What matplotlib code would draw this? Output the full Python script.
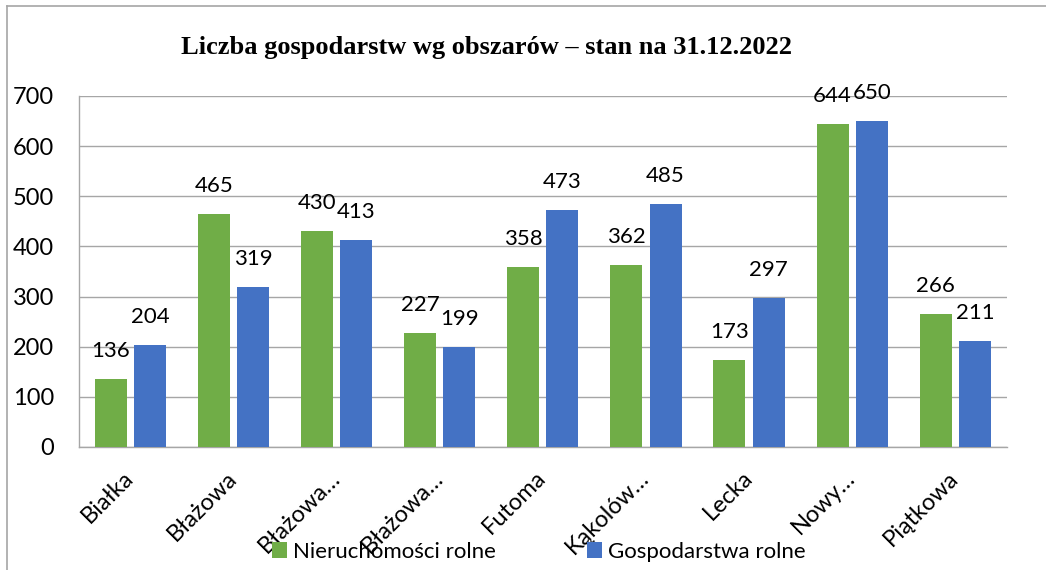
import numpy as np
import matplotlib
matplotlib.use("Agg")
import matplotlib.pyplot as plt
from matplotlib.lines import Line2D

plt.rcParams['font.family'] = ['Lato', 'DejaVu Sans']

# data
obszary = ["Białka", "Błażowa", "Błażowa…", "Błażowa…", "Futoma",
           "Kąkolów…", "Lecka", "Nowy…", "Piątkowa"]
nieruchomosci = [136, 465, 430, 227, 358, 362, 173, 644, 266]
gospodarstwa = [204, 319, 413, 199, 473, 485, 297, 650, 211]

green = '#70AD47'
blue = '#4472C4'
grid_col = '#A6A6A6'

fig = plt.figure(figsize=(10.46, 5.70), dpi=100)
ax = fig.add_axes([0.0755, 0.2158, 0.887, 0.6158])

x = np.arange(len(obszary))
w = 0.31
b1 = ax.bar(x - 0.19, nieruchomosci, w, color=green, label='Nieruchomości rolne', zorder=3)
b2 = ax.bar(x + 0.19, gospodarstwa, w, color=blue, label='Gospodarstwa rolne', zorder=3)

ax.bar_label(b1, padding=13, fontsize=16)
ax.bar_label(b2, padding=13, fontsize=16)

ax.set_xlim(-0.5, len(obszary) - 0.5)
ax.set_ylim(0, 700)
ax.set_yticks(range(0, 701, 100))
ax.yaxis.grid(True, color=grid_col, linewidth=1, zorder=0)
ax.set_axisbelow(True)

ax.set_xticks(x)
ax.set_xticklabels(obszary, rotation=45, ha='right', va='center',
                   rotation_mode='anchor', fontsize=17)
ax.tick_params(axis='x', length=0, pad=20)
ax.tick_params(axis='y', length=0, pad=18, labelsize=17)

for s in ['top', 'right']:
    ax.spines[s].set_visible(False)
for s in ['left', 'bottom']:
    ax.spines[s].set_color(grid_col)
    ax.spines[s].set_linewidth(1)

fig.text(0.465, 0.9175, 'Liczba gospodarstw wg obszarów – stan na 31.12.2022',
         ha='center', va='center', fontsize=19, fontweight='bold',
         family='Liberation Serif')

fig.legend(loc='center', bbox_to_anchor=(0.515, 0.032), ncol=2, frameon=False,
           fontsize=16, handlelength=0.7, handleheight=0.7, handletextpad=0.25,
           columnspacing=4.1)

# chart border (left and top visible in the screenshot)
fig.add_artist(Line2D([0.0067, 0.0067], [0, 0.9895], color=grid_col, lw=1.2,
                      transform=fig.transFigure))
fig.add_artist(Line2D([0.0067, 1], [0.9895, 0.9895], color=grid_col, lw=1.2,
                      transform=fig.transFigure))

fig.savefig('out.png', dpi=100)
